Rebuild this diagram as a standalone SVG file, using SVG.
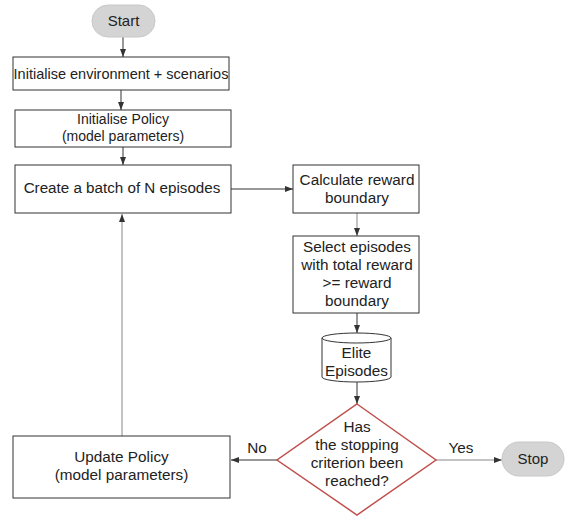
<svg xmlns="http://www.w3.org/2000/svg" width="571" height="519" viewBox="0 0 571 519">
<defs>
<marker id="ah" markerWidth="8" markerHeight="6" refX="8" refY="3" orient="auto" markerUnits="userSpaceOnUse">
<path d="M0,0 L8,3 L0,6 z" fill="#333"/>
</marker>
<style>
text{font-family:"Liberation Sans",Arial,sans-serif;fill:#222;text-anchor:middle;font-size:15.3px}
.box{fill:#fff;stroke:#333;stroke-width:1}
.term{fill:#d4d4d4;stroke:#c8c8c8;stroke-width:1}
.c{fill:none;stroke:#333;stroke-width:1;marker-end:url(#ah)}
.cg{fill:none;stroke:#888;stroke-width:1;marker-end:url(#ah)}
</style>
</defs>
<rect width="571" height="519" fill="#fff"/>
<g id="connectors">
<line class="c" x1="123" y1="37" x2="123" y2="57"/>
<line class="c" x1="121" y1="90" x2="121" y2="110"/>
<line class="c" x1="123" y1="147" x2="123" y2="165"/>
<line class="c" x1="231" y1="189" x2="293" y2="189"/>
<line class="cg" x1="357" y1="213" x2="357" y2="236"/>
<line class="c" x1="357" y1="313" x2="357" y2="333"/>
<line class="c" x1="357" y1="382" x2="357" y2="404"/>
<line class="cg" x1="122" y1="436" x2="122" y2="214"/>
<line class="c" x1="277" y1="460" x2="231" y2="460"/>
<line class="cg" x1="436" y1="460" x2="502" y2="460"/>
<text x="257" y="453">No</text>
<text x="461" y="453">Yes</text>
</g>
<g id="start">
<rect class="term" x="92" y="5" width="63" height="32" rx="16"/>
<text x="123.5" y="26" style="font-size:15px">Start</text>
</g>
<g id="init-env">
<rect class="box" x="13" y="57" width="216" height="33"/>
<text x="121" y="79" style="font-size:14.5px">Initialise environment + scenarios</text>
</g>
<g id="init-policy">
<rect class="box" x="15" y="110" width="216" height="37"/>
<text x="123" y="124" style="font-size:14px">Initialise Policy</text>
<text x="123" y="141" style="font-size:14px">(model parameters)</text>
</g>
<g id="create-batch">
<rect class="box" x="15" y="165" width="216" height="48"/>
<text x="122" y="193" style="font-size:15.2px">Create a batch of N episodes</text>
</g>
<g id="calc-reward">
<rect class="box" x="293" y="165" width="126" height="48"/>
<text x="357" y="185">Calculate reward</text>
<text x="357" y="203">boundary</text>
</g>
<g id="select-episodes">
<rect class="box" x="293" y="236" width="126" height="77"/>
<text x="357" y="252">Select episodes</text>
<text x="357" y="270">with total reward</text>
<text x="357" y="288">&gt;= reward</text>
<text x="357" y="306">boundary</text>
</g>
<g id="elite-episodes">
<path d="M322,338 L322,377 A34.5,5 0 0 0 391,377 L391,338" fill="#fff" stroke="#333"/>
<ellipse cx="356.5" cy="338" rx="34.5" ry="5" fill="#fff" stroke="#333"/>
<text x="356.5" y="358">Elite</text>
<text x="356.5" y="376">Episodes</text>
</g>
<g id="decision">
<polygon points="357,404 436,460 357,515 277,460" fill="#fff" stroke="#c0504d" stroke-width="1.5"/>
<text x="357" y="432">Has</text>
<text x="357" y="450">the stopping</text>
<text x="357" y="468">criterion been</text>
<text x="357" y="486">reached?</text>
</g>
<g id="update-policy">
<rect class="box" x="13" y="436" width="217" height="62"/>
<text x="121.5" y="462">Update Policy</text>
<text x="121.5" y="480">(model parameters)</text>
</g>
<g id="stop">
<rect class="term" x="502" y="442" width="62" height="34" rx="17"/>
<text x="533" y="464" style="font-size:15px">Stop</text>
</g>
</svg>
